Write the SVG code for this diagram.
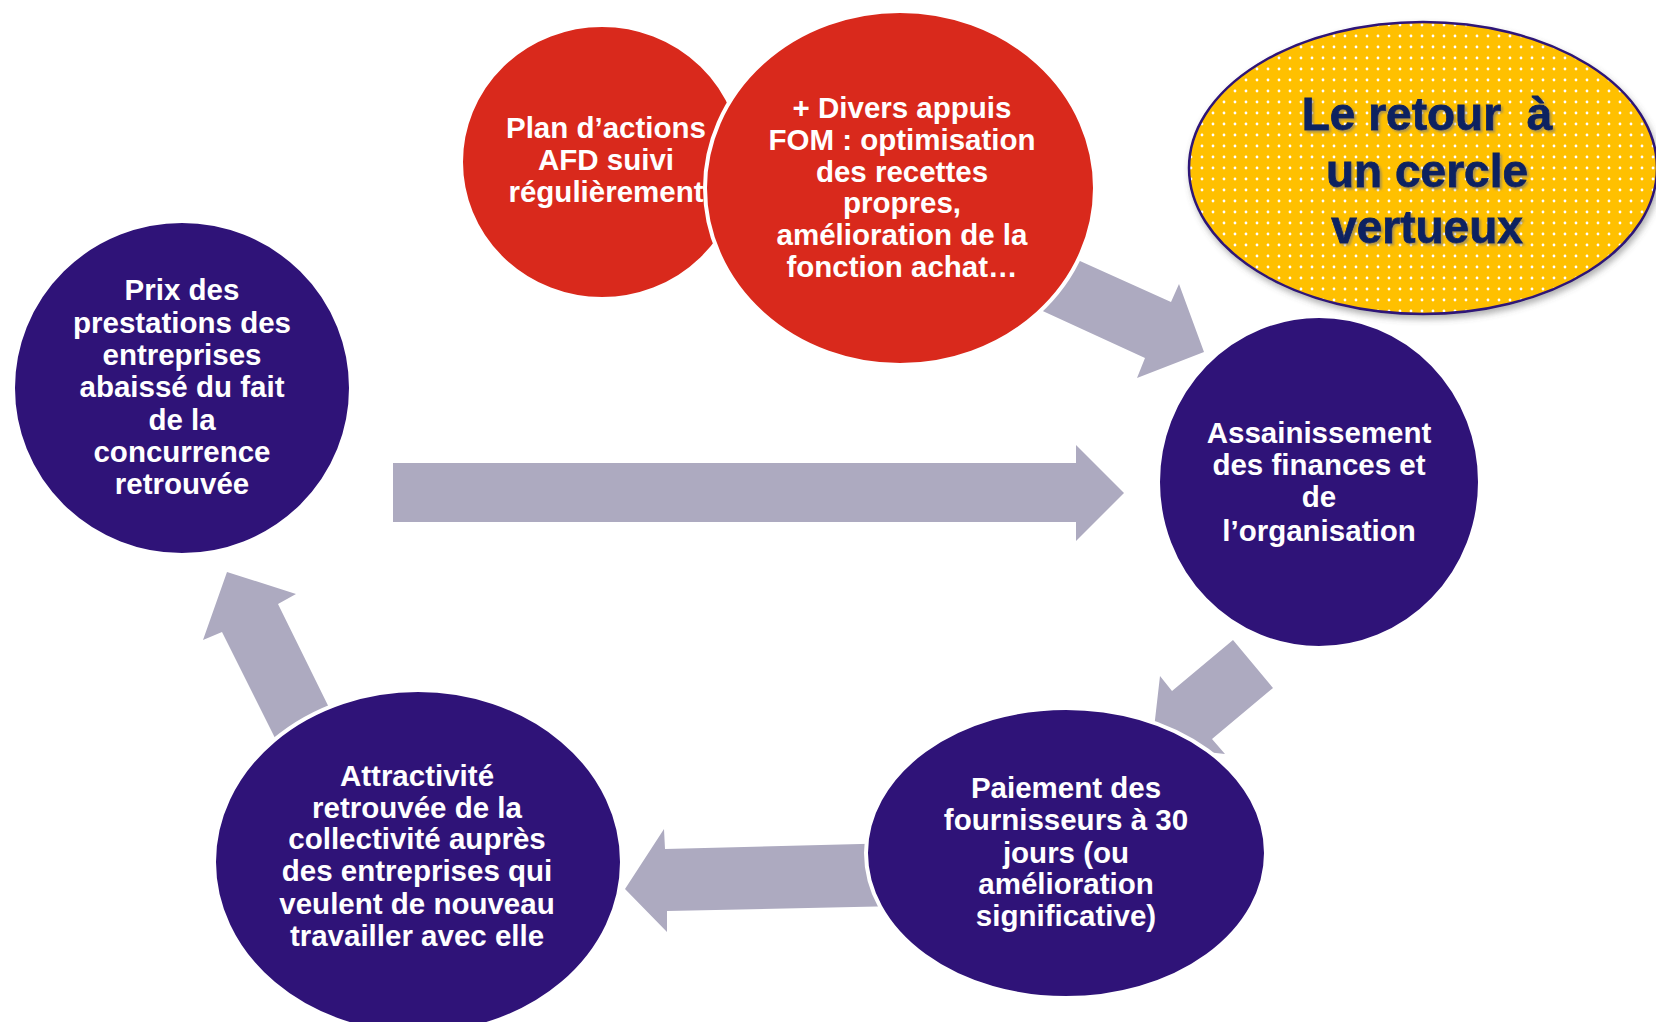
<svg xmlns="http://www.w3.org/2000/svg" width="1656" height="1022" viewBox="0 0 1656 1022">
<defs>
<pattern id="dots" width="11" height="11" patternUnits="userSpaceOnUse">
<rect width="11" height="11" fill="#FFC000"/>
<circle cx="3" cy="3" r="1.4" fill="#ffffff"/>
</pattern>
<filter id="shadow" x="-10%" y="-10%" width="120%" height="130%">
<feDropShadow dx="2" dy="4" stdDeviation="3" flood-color="#555555" flood-opacity="0.45"/>
</filter>
<filter id="tshadow" x="-5%" y="-5%" width="110%" height="120%">
<feDropShadow dx="2" dy="2" stdDeviation="1.2" flood-color="#777777" flood-opacity="0.6"/>
</filter>
<style>
.arrow{fill:#ADAAC0;}
.purple{fill:#2F1378;stroke:#ffffff;stroke-width:4;}
.red{fill:#D9291C;stroke:#ffffff;stroke-width:4;}
.t{font-family:"Liberation Sans",Arial,sans-serif;font-weight:bold;font-size:29.5px;fill:#ffffff;text-anchor:middle;}
.big{font-family:"Liberation Sans",Arial,sans-serif;font-weight:bold;font-size:46px;fill:#0D2160;text-anchor:middle;stroke:#0D2160;stroke-width:0.8;}
</style>
</defs>
<rect width="1656" height="1022" fill="#ffffff"/>
<g id="connectors">
<polygon class="arrow" points="393,463 1076,463 1076,445 1124,493 1076,541 1076,522 393,522"/>
<polygon class="arrow" points="1040,243 1171,302 1179,284 1204,352 1137,378 1145,358 1010,296"/>
<polygon class="arrow" points="1233,640 1273,688 1212,739 1225,754 1152,746 1160,676 1172,691"/>
<polygon class="arrow" points="900,843 665,849 664,829 625,889 667,932 667,911 900,906"/>
<polygon class="arrow" points="227,572 296,594 278,604 344,738 289,766 222,632 203,640"/>
</g>
<g id="node-plan">
<ellipse class="red" cx="602" cy="162" rx="141" ry="137"/>
<text class="t" x="606" y="138">Plan d’actions</text>
<text class="t" x="606" y="170">AFD suivi</text>
<text class="t" x="606" y="202">régulièrement</text>
</g>
<g id="node-appuis">
<ellipse class="red" cx="900" cy="188" rx="195" ry="177"/>
<text class="t" x="902" y="118">+ Divers appuis</text>
<text class="t" x="902" y="150">FOM : optimisation</text>
<text class="t" x="902" y="182">des recettes</text>
<text class="t" x="902" y="213">propres,</text>
<text class="t" x="902" y="245">amélioration de la</text>
<text class="t" x="902" y="277">fonction achat…</text>
</g>
<g id="node-cercle">
<ellipse cx="1423" cy="168" rx="234" ry="146" fill="url(#dots)" stroke="#2F1378" stroke-width="2.5" filter="url(#shadow)"/>
<g filter="url(#tshadow)">
<text class="big" x="1427" y="130" xml:space="preserve">Le retour  à</text>
<text class="big" x="1427" y="187">un cercle</text>
<text class="big" x="1427" y="243">vertueux</text>
</g>
</g>
<g id="node-prix">
<ellipse class="purple" cx="182" cy="388" rx="169" ry="167"/>
<text class="t" x="182" y="300">Prix des</text>
<text class="t" x="182" y="333">prestations des</text>
<text class="t" x="182" y="365">entreprises</text>
<text class="t" x="182" y="397">abaissé du fait</text>
<text class="t" x="182" y="430">de la</text>
<text class="t" x="182" y="462">concurrence</text>
<text class="t" x="182" y="494">retrouvée</text>
</g>
<g id="node-assainissement">
<ellipse class="purple" cx="1319" cy="482" rx="161" ry="166"/>
<text class="t" x="1319" y="443">Assainissement</text>
<text class="t" x="1319" y="475">des finances et</text>
<text class="t" x="1319" y="507">de</text>
<text class="t" x="1319" y="541">l’organisation</text>
</g>
<g id="node-paiement">
<ellipse class="purple" cx="1066" cy="853" rx="200" ry="145"/>
<text class="t" x="1066" y="798">Paiement des</text>
<text class="t" x="1066" y="830">fournisseurs à 30</text>
<text class="t" x="1066" y="863">jours (ou</text>
<text class="t" x="1066" y="894">amélioration</text>
<text class="t" x="1066" y="926">significative)</text>
</g>
<g id="node-attractivite">
<ellipse class="purple" cx="418" cy="862" rx="204" ry="172"/>
<text class="t" x="417" y="786">Attractivité</text>
<text class="t" x="417" y="818">retrouvée de la</text>
<text class="t" x="417" y="849">collectivité auprès</text>
<text class="t" x="417" y="881">des entreprises qui</text>
<text class="t" x="417" y="914">veulent de nouveau</text>
<text class="t" x="417" y="946">travailler avec elle</text>
</g>
</svg>
